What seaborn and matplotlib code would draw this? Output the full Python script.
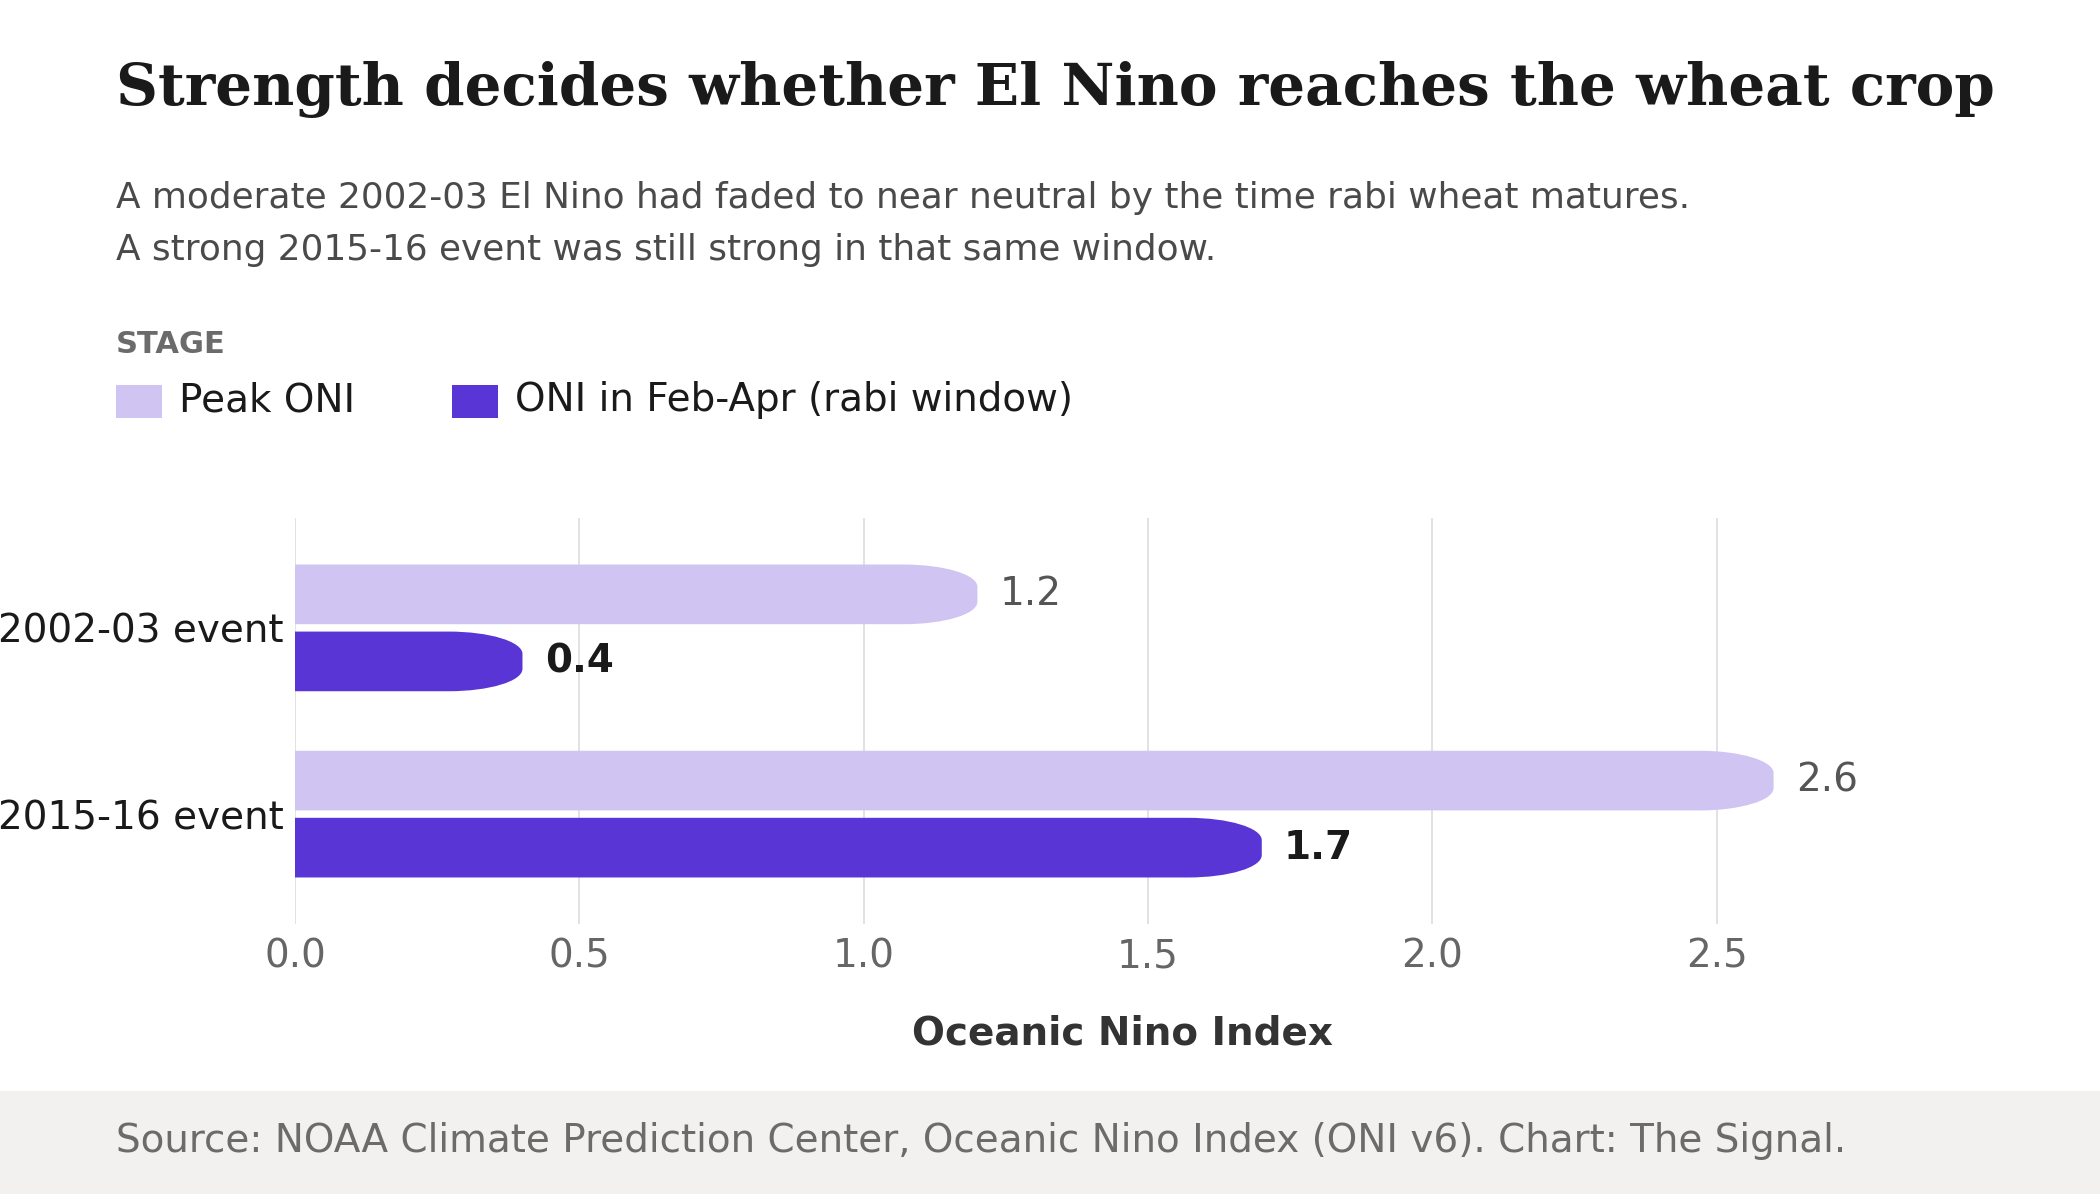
import numpy as np
import pandas as pd
import seaborn as sns
import matplotlib.pyplot as plt
from matplotlib.path import Path
from matplotlib.patches import PathPatch, Rectangle

# Data
events = ['2002-03 event', '2015-16 event']
stages = ['Peak ONI', 'ONI in Feb-Apr (rabi window)']
peak_oni = [1.2, 2.6]
window_oni = [0.4, 1.7]
x_ticks = [0.0, 0.5, 1.0, 1.5, 2.0, 2.5]

light = '#d0c4f2'
dark = '#5a35d6'

df = pd.DataFrame({
    'event': events * 2,
    'stage': [stages[0]] * 2 + [stages[1]] * 2,
    'oni': peak_oni + window_oni,
})

W, H = 2100, 1194
sns.set_theme(style='white')
plt.rcParams['font.family'] = ['DejaVu Sans']
fig = plt.figure(figsize=(W / 100, H / 100), dpi=100)
fig.patch.set_facecolor('white')


def fy(px):
    return 1 - px / H


def fx(px):
    return px / W


ax = fig.add_axes([fx(295), fy(924), fx(1951) - fx(295), fy(518) - fy(924)])
sns.barplot(data=df, y='event', x='oni', hue='stage', hue_order=stages,
            order=events, palette=[light, dark], orient='h', saturation=1,
            width=0.72, gap=0.11, legend=False, ax=ax)

ax.set_xlim(0, 2.912)
ax.set_ylim(1.59, -0.59)

# rounded right ends
rx, ry = 0.13, 0.12
k = 0.5523
for p in list(ax.patches):
    x0, y0 = p.get_x(), p.get_y()
    w, h = p.get_width(), p.get_height()
    x1, y1 = x0 + w, y0 + h
    verts = [
        (x0, y0), (x1 - rx, y0),
        (x1 - rx + k * rx, y0), (x1, y0 + ry - k * ry), (x1, y0 + ry),
        (x1, y1 - ry),
        (x1, y1 - ry + k * ry), (x1 - rx + k * rx, y1), (x1 - rx, y1),
        (x0, y1), (x0, y0),
    ]
    codes = [Path.MOVETO, Path.LINETO,
             Path.CURVE4, Path.CURVE4, Path.CURVE4,
             Path.LINETO,
             Path.CURVE4, Path.CURVE4, Path.CURVE4,
             Path.LINETO, Path.CLOSEPOLY]
    ax.add_patch(PathPatch(Path(verts, codes), facecolor=p.get_facecolor(),
                           edgecolor='none', zorder=3))
    p.remove()

# value labels
for i, ev in enumerate(events):
    ax.annotate(f'{peak_oni[i]:.1f}', xy=(peak_oni[i], i - 0.18),
                xytext=(16, 0), textcoords='offset points', va='center',
                ha='left', fontsize=28, color='#555555')
    ax.annotate(f'{window_oni[i]:.1f}', xy=(window_oni[i], i + 0.18),
                xytext=(16, 0), textcoords='offset points', va='center',
                ha='left', fontsize=28, color='#1a1a1a', fontweight='bold')

ax.set_xticks(x_ticks)
ax.set_xticklabels([f'{t:.1f}' for t in x_ticks])
ax.grid(axis='x', color='#dddddd', linewidth=1.2, zorder=0)
ax.grid(axis='y', visible=False)
ax.set_axisbelow(True)
for s in ax.spines.values():
    s.set_visible(False)
ax.tick_params(axis='x', length=0, pad=10, labelsize=28, labelcolor='#666666')
ax.tick_params(axis='y', length=0, pad=8, labelsize=28, labelcolor='#1a1a1a')
ax.set_ylabel('')
ax.set_xlabel('Oceanic Nino Index', fontsize=28, fontweight='bold',
              color='#333333', labelpad=28)

# title and subtitle
fig.text(fx(116), fy(105), 'Strength decides whether El Nino reaches the wheat crop',
         fontsize=41.8, fontweight='bold', family='DejaVu Serif', color='#1a1a1a',
         va='baseline', ha='left')
fig.text(fx(116), fy(208),
         'A moderate 2002-03 El Nino had faded to near neutral by the time rabi wheat matures.',
         fontsize=25.8, color='#4a4a4a', va='baseline', ha='left')
fig.text(fx(116), fy(260),
         'A strong 2015-16 event was still strong in that same window.',
         fontsize=25.8, color='#4a4a4a', va='baseline', ha='left')

# legend
fig.text(fx(116), fy(353), 'STAGE', fontsize=22, fontweight='bold',
         color='#6b6b6b', va='baseline', ha='left')
for xs, col, lab in [(116, light, stages[0]), (452, dark, stages[1])]:
    fig.patches.append(Rectangle((fx(xs), fy(418)), fx(46), 33 / H,
                                 transform=fig.transFigure, facecolor=col,
                                 edgecolor='none'))
    fig.text(fx(xs + 63), fy(400), lab, fontsize=28, color='#1a1a1a',
             va='center', ha='left')

# footer
fig.patches.append(Rectangle((0, 0), 1, fy(1091), transform=fig.transFigure,
                             facecolor='#f2f1ef', edgecolor='none', zorder=0))
fig.text(fx(116), fy(1141),
         'Source: NOAA Climate Prediction Center, Oceanic Nino Index (ONI v6). Chart: The Signal.',
         fontsize=28, color='#6b6b6b', va='center', ha='left')

fig.savefig('out.png', dpi=100, facecolor='white')
